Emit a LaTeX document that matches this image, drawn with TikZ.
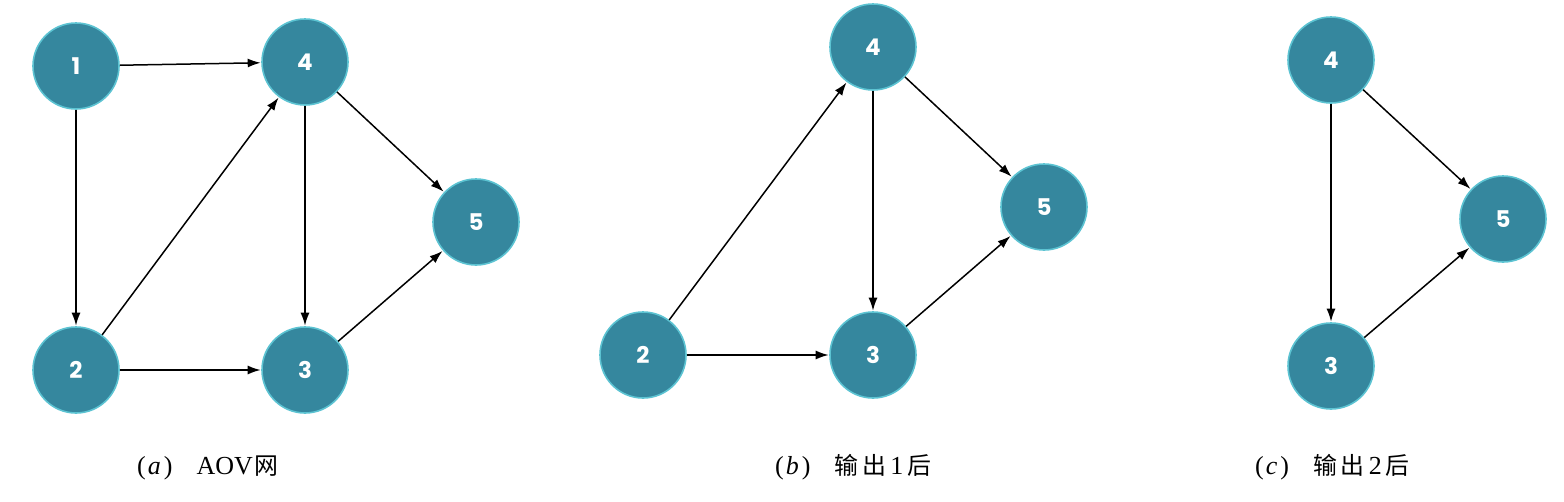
\documentclass[tikz,border=0pt]{standalone}
\usepackage{fontspec}
\setmainfont{Liberation Serif}
\newfontfamily\cjk{Noto Sans CJK SC}[Scale=0.92]
\newfontfamily\nodefont{Poppins}
\usetikzlibrary{arrows.meta}
\definecolor{nodefill}{HTML}{35879E}
\definecolor{nodeedge}{HTML}{5CC3D2}
\tikzset{
  vert/.style={circle, fill=nodefill, draw=nodeedge, line width=1.6pt, minimum size=86pt, inner sep=0pt,
    text=white, font=\nodefont\bfseries\fontsize{23}{23}\selectfont},
  edge/.style={line width=1.5pt, -{Latex[length=13pt,width=9pt]}, shorten >=0.5pt},
  caption/.style={font=\fontsize{26}{26}\selectfont, anchor=base west, inner sep=0pt}
}
\begin{document}
\begin{tikzpicture}[x=1pt,y=-1pt]
\useasboundingbox (0,0) rectangle (1564,501);
% (a)
\node[vert] (a1) at (76,66) {1};
\node[vert] (a4) at (305,62) {4};
\node[vert] (a5) at (476,222) {5};
\node[vert] (a2) at (76,370) {2};
\node[vert] (a3) at (305,370) {3};
\draw[edge] (a1) -- (a4);
\draw[edge] (a1) -- (a2);
\draw[edge] (a2) -- (a4);
\draw[edge] (a2) -- (a3);
\draw[edge] (a4) -- (a3);
\draw[edge] (a4) -- (a5);
\draw[edge] (a3) -- (a5);
% (b)
\node[vert] (b4) at (873,47) {4};
\node[vert] (b5) at (1044,207) {5};
\node[vert] (b2) at (643,355) {2};
\node[vert] (b3) at (873,355) {3};
\draw[edge] (b2) -- (b4);
\draw[edge] (b2) -- (b3);
\draw[edge] (b4) -- (b3);
\draw[edge] (b4) -- (b5);
\draw[edge] (b3) -- (b5);
% (c)
\node[vert] (c4) at (1331,60) {4};
\node[vert] (c5) at (1503,219) {5};
\node[vert] (c3) at (1331,366) {3};
\draw[edge] (c4) -- (c3);
\draw[edge] (c4) -- (c5);
\draw[edge] (c3) -- (c5);
% captions
\node[caption] (la) at (137,474) {(\kern2pt{\itshape a}\kern3pt)\hspace{24pt}AOV\kern2pt{\cjk 网}};
\node[caption] (lb) at (775,474) {(\kern2pt{\itshape b}\kern3pt)\hspace{24pt}{\cjk 输}\kern4pt{\cjk 出}\kern4pt 1\kern4pt{\cjk 后}};
\node[caption] (lc) at (1255,474) {(\kern2pt{\itshape c}\kern3pt)\hspace{24pt}{\cjk 输}\kern4pt{\cjk 出}\kern4pt 2\kern4pt{\cjk 后}};
\end{tikzpicture}
\end{document}
